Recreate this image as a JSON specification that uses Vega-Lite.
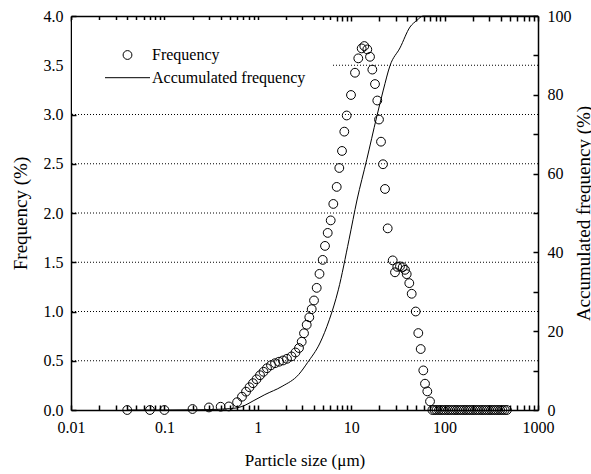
{
  "$schema": "https://vega.github.io/schema/vega-lite/v6.json",
  "width": 467,
  "height": 394,
  "autosize": "none",
  "padding": {"left": 71, "top": 16, "right": 53, "bottom": 64},
  "background": "white",
  "config": {
    "view": {"stroke": null},
    "axis": {
      "labelFont": "Liberation Serif",
      "titleFont": "Liberation Serif",
      "labelFontSize": 16,
      "titleFontSize": 17,
      "titleFontWeight": "normal",
      "labelColor": "black",
      "titleColor": "black",
      "domainColor": "#000000",
      "tickColor": "#000000",
      "domainWidth": 1.5,
      "tickWidth": 1.5,
      "grid": false,
      "labelFlush": false,
      "labelOverlap": false
    }
  },
  "datasets": {
    "grid": [{"g": 0.5}, {"g": 1}, {"g": 1.5}, {"g": 2}, {"g": 2.5}, {"g": 3}, {"g": 3.5}],
    "freq": [
      {"size": 0.04, "freq": 0, "series": "Frequency"},
      {"size": 0.07, "freq": 0, "series": "Frequency"},
      {"size": 0.1, "freq": 0, "series": "Frequency"},
      {"size": 0.2, "freq": 0.01, "series": "Frequency"},
      {"size": 0.3, "freq": 0.026, "series": "Frequency"},
      {"size": 0.4, "freq": 0.033, "series": "Frequency"},
      {"size": 0.49, "freq": 0.036, "series": "Frequency"},
      {"size": 0.6, "freq": 0.079, "series": "Frequency"},
      {"size": 0.677, "freq": 0.135, "series": "Frequency"},
      {"size": 0.748, "freq": 0.186, "series": "Frequency"},
      {"size": 0.815, "freq": 0.231, "series": "Frequency"},
      {"size": 0.888, "freq": 0.272, "series": "Frequency"},
      {"size": 0.969, "freq": 0.312, "series": "Frequency"},
      {"size": 1.056, "freq": 0.353, "series": "Frequency"},
      {"size": 1.151, "freq": 0.388, "series": "Frequency"},
      {"size": 1.254, "freq": 0.424, "series": "Frequency"},
      {"size": 1.384, "freq": 0.454, "series": "Frequency"},
      {"size": 1.529, "freq": 0.475, "series": "Frequency"},
      {"size": 1.687, "freq": 0.49, "series": "Frequency"},
      {"size": 1.861, "freq": 0.503, "series": "Frequency"},
      {"size": 2.054, "freq": 0.52, "series": "Frequency"},
      {"size": 2.295, "freq": 0.544, "series": "Frequency"},
      {"size": 2.533, "freq": 0.584, "series": "Frequency"},
      {"size": 2.761, "freq": 0.629, "series": "Frequency"},
      {"size": 2.951, "freq": 0.693, "series": "Frequency"},
      {"size": 3.124, "freq": 0.779, "series": "Frequency"},
      {"size": 3.339, "freq": 0.865, "series": "Frequency"},
      {"size": 3.559, "freq": 0.941, "series": "Frequency"},
      {"size": 3.777, "freq": 1.024, "series": "Frequency"},
      {"size": 3.998, "freq": 1.112, "series": "Frequency"},
      {"size": 4.272, "freq": 1.24, "series": "Frequency"},
      {"size": 4.577, "freq": 1.382, "series": "Frequency"},
      {"size": 4.953, "freq": 1.524, "series": "Frequency"},
      {"size": 5.242, "freq": 1.666, "series": "Frequency"},
      {"size": 5.603, "freq": 1.798, "series": "Frequency"},
      {"size": 6.033, "freq": 1.925, "series": "Frequency"},
      {"size": 6.434, "freq": 2.092, "series": "Frequency"},
      {"size": 6.996, "freq": 2.265, "series": "Frequency"},
      {"size": 7.458, "freq": 2.457, "series": "Frequency"},
      {"size": 7.97, "freq": 2.63, "series": "Frequency"},
      {"size": 8.436, "freq": 2.826, "series": "Frequency"},
      {"size": 8.95, "freq": 2.99, "series": "Frequency"},
      {"size": 9.95, "freq": 3.198, "series": "Frequency"},
      {"size": 10.98, "freq": 3.424, "series": "Frequency"},
      {"size": 11.91, "freq": 3.57, "series": "Frequency"},
      {"size": 12.95, "freq": 3.671, "series": "Frequency"},
      {"size": 13.81, "freq": 3.695, "series": "Frequency"},
      {"size": 14.87, "freq": 3.661, "series": "Frequency"},
      {"size": 15.9, "freq": 3.586, "series": "Frequency"},
      {"size": 16.83, "freq": 3.456, "series": "Frequency"},
      {"size": 17.98, "freq": 3.309, "series": "Frequency"},
      {"size": 19.03, "freq": 3.142, "series": "Frequency"},
      {"size": 19.84, "freq": 2.949, "series": "Frequency"},
      {"size": 20.85, "freq": 2.724, "series": "Frequency"},
      {"size": 21.9, "freq": 2.495, "series": "Frequency"},
      {"size": 23.01, "freq": 2.244, "series": "Frequency"},
      {"size": 24.59, "freq": 1.844, "series": "Frequency"},
      {"size": 27.82, "freq": 1.519, "series": "Frequency"},
      {"size": 29.44, "freq": 1.398, "series": "Frequency"},
      {"size": 31.16, "freq": 1.453, "series": "Frequency"},
      {"size": 33.3, "freq": 1.458, "series": "Frequency"},
      {"size": 35.59, "freq": 1.45, "series": "Frequency"},
      {"size": 37.67, "freq": 1.423, "series": "Frequency"},
      {"size": 39.28, "freq": 1.379, "series": "Frequency"},
      {"size": 41.88, "freq": 1.288, "series": "Frequency"},
      {"size": 44.43, "freq": 1.18, "series": "Frequency"},
      {"size": 49.05, "freq": 1.0, "series": "Frequency"},
      {"size": 52.3, "freq": 0.781, "series": "Frequency"},
      {"size": 55.48, "freq": 0.619, "series": "Frequency"},
      {"size": 59.15, "freq": 0.402, "series": "Frequency"},
      {"size": 61.68, "freq": 0.267, "series": "Frequency"},
      {"size": 65.3, "freq": 0.189, "series": "Frequency"},
      {"size": 69.8, "freq": 0.087, "series": "Frequency"},
      {"size": 74, "freq": 0, "series": "Frequency"},
      {"size": 78, "freq": 0, "series": "Frequency"},
      {"size": 82, "freq": 0, "series": "Frequency"},
      {"size": 87, "freq": 0, "series": "Frequency"},
      {"size": 92, "freq": 0, "series": "Frequency"},
      {"size": 97, "freq": 0, "series": "Frequency"},
      {"size": 103, "freq": 0, "series": "Frequency"},
      {"size": 109, "freq": 0, "series": "Frequency"},
      {"size": 115, "freq": 0, "series": "Frequency"},
      {"size": 122, "freq": 0, "series": "Frequency"},
      {"size": 129, "freq": 0, "series": "Frequency"},
      {"size": 136, "freq": 0, "series": "Frequency"},
      {"size": 144, "freq": 0, "series": "Frequency"},
      {"size": 152, "freq": 0, "series": "Frequency"},
      {"size": 161, "freq": 0, "series": "Frequency"},
      {"size": 170, "freq": 0, "series": "Frequency"},
      {"size": 180, "freq": 0, "series": "Frequency"},
      {"size": 190, "freq": 0, "series": "Frequency"},
      {"size": 201, "freq": 0, "series": "Frequency"},
      {"size": 213, "freq": 0, "series": "Frequency"},
      {"size": 225, "freq": 0, "series": "Frequency"},
      {"size": 238, "freq": 0, "series": "Frequency"},
      {"size": 252, "freq": 0, "series": "Frequency"},
      {"size": 266, "freq": 0, "series": "Frequency"},
      {"size": 282, "freq": 0, "series": "Frequency"},
      {"size": 298, "freq": 0, "series": "Frequency"},
      {"size": 315, "freq": 0, "series": "Frequency"},
      {"size": 333, "freq": 0, "series": "Frequency"},
      {"size": 352, "freq": 0, "series": "Frequency"},
      {"size": 372, "freq": 0, "series": "Frequency"},
      {"size": 394, "freq": 0, "series": "Frequency"},
      {"size": 416, "freq": 0, "series": "Frequency"},
      {"size": 440, "freq": 0, "series": "Frequency"},
      {"size": 465, "freq": 0, "series": "Frequency"}
    ],
    "cum": [
      {"size": 0.04, "cum": 0},
      {"size": 0.1, "cum": 0},
      {"size": 0.2, "cum": 0.05},
      {"size": 0.3, "cum": 0.1},
      {"size": 0.4, "cum": 0.2},
      {"size": 0.5, "cum": 0.35},
      {"size": 0.6, "cum": 0.55},
      {"size": 0.73, "cum": 1.2},
      {"size": 0.89, "cum": 2.3},
      {"size": 1.19, "cum": 3.9},
      {"size": 1.82, "cum": 6.0},
      {"size": 2.74, "cum": 9.0},
      {"size": 3.4, "cum": 12.0},
      {"size": 4.63, "cum": 17.0},
      {"size": 5.83, "cum": 22.9},
      {"size": 7.28, "cum": 30.5},
      {"size": 9.47, "cum": 43.2},
      {"size": 11.54, "cum": 53.3},
      {"size": 14.66, "cum": 63.5},
      {"size": 18.75, "cum": 74.4},
      {"size": 22.07, "cum": 81.2},
      {"size": 26.03, "cum": 87.4},
      {"size": 33.3, "cum": 91.9},
      {"size": 42.6, "cum": 97.2},
      {"size": 50.6, "cum": 98.9},
      {"size": 58.7, "cum": 100},
      {"size": 1000, "cum": 100}
    ]
  },
  "layer": [
    {
      "layer": [
        {
          "data": {"name": "grid"},
          "mark": {"type": "rule", "color": "black", "strokeWidth": 1, "strokeDash": [1, 2]},
          "encoding": {
            "y": {"field": "g", "type": "quantitative", "scale": {"domain": [0, 4], "nice": false}}
          }
        },
        {
          "data": {"name": "freq"},
          "mark": {"type": "point", "filled": false, "color": "black", "strokeWidth": 1, "size": 2025, "opacity": 1},
          "encoding": {
            "x": {"field": "size", "type": "quantitative", "scale": {"type": "log", "domain": [0.01, 1000], "nice": false},
              "axis": {"orient": "bottom", "values": [0.01, 0.02, 0.03, 0.04, 0.05, 0.06, 0.07, 0.08, 0.09, 0.1, 0.2, 0.3, 0.4, 0.5, 0.6, 0.7, 0.8, 0.9, 1, 2, 3, 4, 5, 6, 7, 8, 9, 10, 20, 30, 40, 50, 60, 70, 80, 90, 100, 200, 300, 400, 500, 600, 700, 800, 900, 1000], "format": "~g", "labelExpr": "indexof(['0.01','0.1','1','10','100','1000'], datum.label) >= 0 ? datum.label : ''", "tickSize": -5, "labelPadding": 14, "title": "Particle size (μm)", "titleFontSize": 17, "titlePadding": 17}},
            "y": {"field": "freq", "type": "quantitative", "scale": {"domain": [0, 4], "nice": false},
              "axis": {"orient": "left", "values": [0, 0.25, 0.5, 0.75, 1, 1.25, 1.5, 1.75, 2, 2.25, 2.5, 2.75, 3, 3.25, 3.5, 3.75, 4], "format": ".1f", "labelExpr": "datum.value * 2 == round(datum.value * 2) ? datum.label : ''", "tickSize": -5, "labelPadding": 13, "title": "Frequency (%)", "titleFontSize": 19, "titlePadding": 13}},
            "shape": {"field": "series", "type": "nominal",
              "scale": {"domain": ["Frequency", "Accumulated frequency"], "range": ["M0.196,0A0.196,0.196,0,1,1,-0.196,0A0.196,0.196,0,1,1,0.196,0Z", "M-1,0L1,0"]},
              "legend": {"title": null, "orient": "none", "legendX": 1, "legendY": 4, "fillColor": "white", "padding": 27, "symbolOffset": 5.5, "labelOffset": 1.5, "labelFont": "Liberation Serif", "labelFontSize": 16, "labelColor": "black", "labelLimit": 400, "symbolSize": 2025, "symbolStrokeColor": "black", "symbolStrokeWidth": 1, "symbolFillColor": "transparent", "clipHeight": 16, "rowPadding": 6.7, "zindex": 1}}
          }
        }
      ]
    },
    {
      "data": {"name": "cum"},
      "mark": {"type": "line", "color": "black", "strokeWidth": 1, "interpolate": "monotone"},
      "encoding": {
        "x": {"field": "size", "type": "quantitative", "scale": {"type": "log", "domain": [0.01, 1000], "nice": false},
          "axis": {"orient": "top", "values": [0.01, 0.02, 0.03, 0.04, 0.05, 0.06, 0.07, 0.08, 0.09, 0.1, 0.2, 0.3, 0.4, 0.5, 0.6, 0.7, 0.8, 0.9, 1, 2, 3, 4, 5, 6, 7, 8, 9, 10, 20, 30, 40, 50, 60, 70, 80, 90, 100, 200, 300, 400, 500, 600, 700, 800, 900, 1000], "tickSize": -5, "labels": false, "title": null}},
        "y": {"field": "cum", "type": "quantitative", "scale": {"domain": [0, 100], "nice": false},
          "axis": {"orient": "right", "values": [0, 10, 20, 30, 40, 50, 60, 70, 80, 90, 100], "format": "d", "labelExpr": "datum.value % 20 == 0 ? datum.label : ''", "tickSize": -5, "labelPadding": 14, "title": "Accumulated frequency (%)", "titleFontSize": 19, "titleAngle": 270, "titleBaseline": "top", "titlePadding": 3}}
      }
    }
  ],
  "resolve": {"scale": {"y": "independent"}, "axis": {"x": "independent", "y": "independent"}}
}
